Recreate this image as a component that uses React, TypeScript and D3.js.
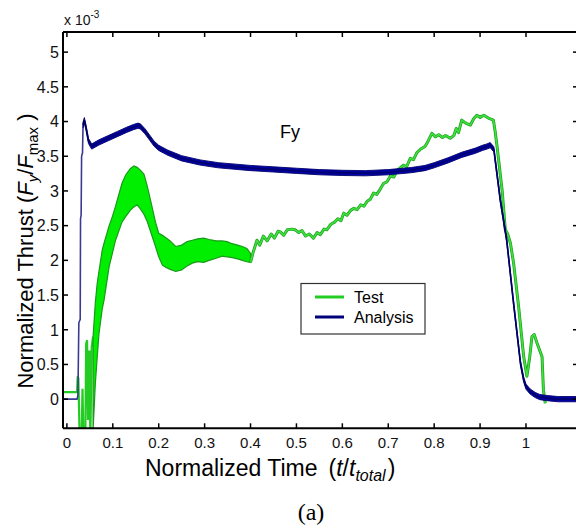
import React from "react";
import * as d3 from "d3";

// ---- data ----
const xTicks = [0, 0.1, 0.2, 0.3, 0.4, 0.5, 0.6, 0.7, 0.8, 0.9, 1];
const yTicks = [0, 0.5, 1, 1.5, 2, 2.5, 3, 3.5, 4, 4.5, 5];
const yTickLabels = ["0", "0.5", "1", "1.5", "2", "2.5", "3", "3.5", "4", "4.5", "5"];
const xTickLabels = ["0", "0.1", "0.2", "0.3", "0.4", "0.5", "0.6", "0.7", "0.8", "0.9", "1"];

// Analysis: thin start segment
const analysisStartX = [-0.0085, 0.022, 0.024, 0.026, 0.029, 0.0297, 0.031, 0.032, 0.034, 0.035, 0.038];
const analysisStartY = [0, 0, 0.05, 1.1, 1.15, 2.6, 2.65, 3.5, 3.55, 3.9, 4.02];
// Analysis: main (thick) curve
const analysisX = [0.035, 0.038, 0.042, 0.047, 0.054, 0.07, 0.09, 0.11, 0.13, 0.145, 0.155, 0.16, 0.17, 0.18, 0.19, 0.2, 0.22, 0.25, 0.29, 0.33, 0.4, 0.45, 0.5, 0.55, 0.6, 0.65, 0.7, 0.75, 0.78, 0.8, 0.83, 0.86, 0.89, 0.905, 0.915, 0.922, 0.93, 0.944, 0.958, 0.973, 0.988, 0.995, 1.0, 1.009, 1.02, 1.03, 1.046, 1.07, 1.12];
const analysisY = [3.95, 4.02, 3.9, 3.72, 3.64, 3.7, 3.76, 3.82, 3.88, 3.92, 3.94, 3.93, 3.86, 3.77, 3.68, 3.62, 3.55, 3.47, 3.41, 3.37, 3.33, 3.31, 3.29, 3.27, 3.26, 3.255, 3.27, 3.3, 3.33, 3.37, 3.44, 3.52, 3.58, 3.62, 3.64, 3.66, 3.6, 2.87, 2.29, 1.38, 0.52, 0.28, 0.18, 0.11, 0.06, 0.03, 0.015, 0.0, 0.0];

// Test: early spikes
const testStartX = [-0.0085, 0.022, 0.0235, 0.025, 0.028, 0.032, 0.034, 0.036, 0.04, 0.042, 0.044, 0.046, 0.049, 0.051, 0.054, 0.057];
const testStartY = [0.1, 0.1, 0.33, 0.3, -0.6, -0.6, 0.15, -0.6, -0.6, 0.8, 0.85, -0.3, 0.7, -0.6, 0.75, 0.9];
// Test: oscillating band (upper / lower envelope)
const testBandX = [0.057, 0.062, 0.066, 0.07, 0.077, 0.081, 0.092, 0.099, 0.106, 0.12, 0.128, 0.138, 0.146, 0.153, 0.16, 0.168, 0.175, 0.182, 0.193, 0.2, 0.208, 0.215, 0.225, 0.237, 0.25, 0.262, 0.273, 0.285, 0.298, 0.31, 0.325, 0.338, 0.349, 0.36, 0.372, 0.382, 0.392, 0.4];
const testBandUpper = [0.9, 1.4, 1.67, 1.85, 2.15, 2.25, 2.5, 2.63, 2.78, 3.11, 3.23, 3.32, 3.36, 3.34, 3.3, 3.24, 3.07, 2.87, 2.55, 2.39, 2.36, 2.33, 2.28, 2.2, 2.22, 2.27, 2.29, 2.31, 2.32, 2.3, 2.28, 2.28, 2.27, 2.24, 2.22, 2.2, 2.17, 2.1];
const testBandLower = [-0.45, 0.23, 0.6, 0.95, 1.3, 1.43, 1.91, 2.1, 2.29, 2.55, 2.63, 2.72, 2.77, 2.8, 2.74, 2.66, 2.56, 2.42, 2.2, 2.05, 1.93, 1.9, 1.87, 1.84, 1.86, 1.92, 1.96, 1.98, 1.97, 2.0, 2.03, 2.06, 2.05, 2.04, 2.02, 2.0, 1.98, 1.97];
// Test: later line
const testLineX = [0.4, 0.405, 0.414, 0.42, 0.428, 0.436, 0.445, 0.452, 0.46, 0.465, 0.472, 0.48, 0.49, 0.497, 0.505, 0.512, 0.52, 0.528, 0.537, 0.545, 0.552, 0.56, 0.566, 0.575, 0.583, 0.59, 0.597, 0.603, 0.61, 0.618, 0.625, 0.632, 0.64, 0.647, 0.654, 0.661, 0.668, 0.675, 0.683, 0.69, 0.697, 0.705, 0.712, 0.72, 0.733, 0.74, 0.748, 0.755, 0.762, 0.77, 0.78, 0.787, 0.795, 0.803, 0.81, 0.818, 0.825, 0.835, 0.843, 0.848, 0.853, 0.86, 0.866, 0.871, 0.879, 0.886, 0.893, 0.9, 0.908, 0.918, 0.929, 0.933, 0.937, 0.948, 0.955, 0.96, 0.966, 0.973, 0.984, 0.995, 1.002, 1.008, 1.013, 1.018, 1.024, 1.03, 1.035, 1.038, 1.042];
const testLineY = [1.97, 2.1, 2.29, 2.22, 2.35, 2.28, 2.38, 2.32, 2.42, 2.41, 2.36, 2.44, 2.45, 2.44, 2.4, 2.43, 2.35, 2.38, 2.32, 2.4, 2.37, 2.45, 2.44, 2.52, 2.55, 2.6, 2.57, 2.68, 2.65, 2.72, 2.75, 2.73, 2.8, 2.78, 2.85, 2.88, 2.97, 2.95, 3.03, 3.11, 3.13, 3.22, 3.2, 3.3, 3.37, 3.35, 3.47, 3.45, 3.55, 3.6, 3.64, 3.72, 3.83, 3.78, 3.81, 3.77, 3.8, 3.76, 3.8, 3.9, 3.84, 4.02, 3.99, 3.97, 3.95, 4.04, 4.09, 4.06, 4.09, 4.05, 4.02, 3.85, 3.64, 3.01, 2.44, 2.38, 2.25, 1.96, 1.33, 0.61, 0.33, 0.6, 0.9, 0.93, 0.81, 0.7, 0.61, 0.13, -0.06];

const seriesNames = ["Test", "Analysis"];
const seriesColors = ["#22cc22", "#00007a"];

const FONT = "'Liberation Sans', Arial, Helvetica, sans-serif";

export default function App() {
  const left = 63, right = 578, top = 32, bottom = 428.3;
  const x = d3.scaleLinear().domain([-0.0085, 1.1133]).range([left, right]);
  const y = d3.scaleLinear().domain([-0.42, 5.29]).range([bottom, top]);

  const zip = (xs: number[], ys: number[]) => xs.map((v, i) => [v, ys[i]] as [number, number]);
  const line = d3.line<[number, number]>().x((d) => x(d[0])).y((d) => y(d[1]));

  const halfW = 2.6;
  const thickArea = d3
    .area<[number, number]>()
    .x((d) => x(d[0]))
    .y0((d) => y(d[1]) + halfW)
    .y1((d) => y(d[1]) - halfW);

  const band = testBandX.map((v, i) => ({ x: v, lo: testBandLower[i], hi: testBandUpper[i] }));
  const bandArea = d3
    .area<{ x: number; lo: number; hi: number }>()
    .x((d) => x(d.x))
    .y0((d) => y(d.lo))
    .y1((d) => y(d.hi));

  const tickLen = 5;

  return (
    <svg
      width={576}
      height={528}
      style={{ position: "absolute", left: 0, top: 0, background: "#fff" }}
      fontFamily={FONT}
    >
      <rect x={0} y={0} width={576} height={528} fill="#fff" />
      <defs>
        <clipPath id="plotclip">
          <rect x={left} y={top} width={right - left} height={bottom - top} />
        </clipPath>
      </defs>

      <g clipPath="url(#plotclip)">
        {/* Test series */}
        <path d={line(zip(testStartX, testStartY)) || ""} fill="none" stroke="#22cc22" strokeWidth={2.2} />
        <path d={bandArea(band) || ""} fill="#00ee00" stroke="#1a9a1a" strokeWidth={1.2} />
        <path d={line(zip(testLineX, testLineY)) || ""} fill="none" stroke="#1f9f1f" strokeWidth={3} strokeLinejoin="round" />
        <path d={line(zip(testLineX, testLineY)) || ""} fill="none" stroke="#3ee03e" strokeWidth={1.6} strokeLinejoin="round" />
        {/* Analysis series */}
        <path d={line(zip(analysisStartX, analysisStartY)) || ""} fill="none" stroke="#3a3a90" strokeWidth={1.6} />
        <path d={thickArea(zip(analysisX, analysisY)) || ""} fill="#0000a8" stroke="#00006a" strokeWidth={0.9} />
        <path d={line(zip(analysisX, analysisY)) || ""} fill="none" stroke="#00006a" strokeWidth={1.6} />
      </g>

      {/* frame */}
      <line x1={left} x2={left} y1={top} y2={bottom} stroke="#000" strokeWidth={2} />
      <line x1={left} x2={right} y1={bottom} y2={bottom} stroke="#000" strokeWidth={2} />
      <line x1={left} x2={right} y1={top} y2={top} stroke="#000" strokeWidth={2} />
      <line x1={right} x2={right} y1={top} y2={bottom} stroke="#000" strokeWidth={2} />

      {/* x ticks */}
      {xTicks.map((t, i) => (
        <g key={"xt" + i}>
          <line x1={x(t)} x2={x(t)} y1={bottom} y2={bottom - tickLen} stroke="#000" strokeWidth={1.5} />
          <line x1={x(t)} x2={x(t)} y1={top} y2={top + tickLen} stroke="#000" strokeWidth={1.5} />
          <text x={x(t)} y={448} textAnchor="middle" fontSize={15} fill="#111">
            {xTickLabels[i]}
          </text>
        </g>
      ))}
      {/* y ticks */}
      {yTicks.map((t, i) => (
        <g key={"yt" + i}>
          <line x1={left} x2={left + tickLen} y1={y(t)} y2={y(t)} stroke="#000" strokeWidth={1.5} />
          <line x1={right} x2={right - tickLen} y1={y(t)} y2={y(t)} stroke="#000" strokeWidth={1.5} />
          <text x={59} y={y(t)} dy="0.36em" textAnchor="end" fontSize={16} fill="#111">
            {yTickLabels[i]}
          </text>
        </g>
      ))}

      {/* exponent */}
      <text x={64} y={25} fontSize={14} fill="#111">
        x 10
        <tspan dy={-7} fontSize={10}>-3</tspan>
      </text>

      {/* Fy */}
      <text x={280} y={138} fontSize={18} fill="#000">Fy</text>

      {/* legend */}
      <g>
        <rect x={301} y={283.5} width={124} height={50.5} fill="#fff" stroke="#333" strokeWidth={1.2} />
        {seriesNames.map((n, i) => (
          <g key={n}>
            <line x1={315} x2={344} y1={297 + i * 20} y2={297 + i * 20} stroke={seriesColors[i]} strokeWidth={3} />
            <text x={354} y={303 + i * 20} fontSize={16} fill="#000">{n}</text>
          </g>
        ))}
      </g>

      {/* y label */}
      <text transform="translate(33,251) rotate(-90)" textAnchor="middle" fontSize={22} fill="#000">
        Normalized Thrust (
        <tspan fontStyle="italic">F</tspan>
        <tspan fontStyle="italic" fontSize={15} dy={5}>y</tspan>
        <tspan dy={-5}>/</tspan>
        <tspan fontStyle="italic">F</tspan>
        <tspan fontSize={15} dy={5}>max</tspan>
        <tspan dy={-5}> )</tspan>
      </text>

      {/* x label */}
      <text x={145} y={476} fontSize={23} fill="#000">
        Normalized Time
        <tspan dx={11}>(</tspan>
        <tspan fontStyle="italic">t</tspan>
        <tspan>/</tspan>
        <tspan fontStyle="italic">t</tspan>
        <tspan fontStyle="italic" fontSize={16} dy={5}>total</tspan>
        <tspan dy={-5} dx={2}>)</tspan>
      </text>

      {/* caption */}
      <text x={311} y={520} textAnchor="middle" fontSize={24} fontFamily="'Liberation Serif', 'Times New Roman', serif" fill="#000">
        (a)
      </text>
    </svg>
  );
}
